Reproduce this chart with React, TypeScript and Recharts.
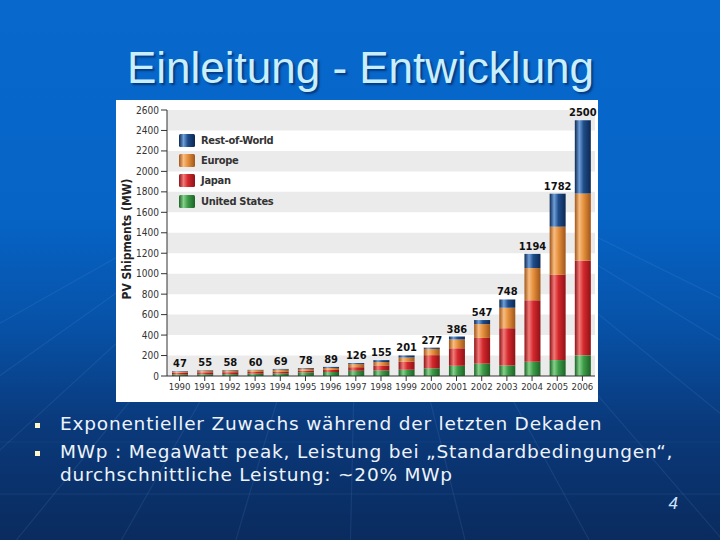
import React from 'react';
import { BarChart, Bar, XAxis, YAxis, ReferenceArea, Legend, LabelList } from 'recharts';

const years = ['1990', '1991', '1992', '1993', '1994', '1995', '1996', '1997', '1998', '1999', '2000', '2001', '2002', '2003', '2004', '2005', '2006'];
const unitedStates = [15, 17, 18, 23, 26, 35, 39, 51, 54, 61, 75, 100, 121, 103, 139, 156, 202];
const japan = [17, 19, 19, 17, 16, 16, 21, 35, 49, 80, 129, 171, 251, 364, 602, 833, 926];
const europe = [10, 14, 16, 17, 21, 20, 19, 30, 34, 40, 61, 86, 135, 200, 314, 470, 657];
const restOfWorld = [5, 5, 5, 3, 6, 7, 10, 10, 18, 20, 12, 29, 40, 81, 139, 323, 715];
const totals = [47, 55, 58, 60, 69, 78, 89, 126, 155, 201, 277, 386, 547, 748, 1194, 1782, 2500];
const yTicks = [0, 200, 400, 600, 800, 1000, 1200, 1400, 1600, 1800, 2000, 2200, 2400, 2600];

const series = [
  { key: 'us', name: 'United States', id: 'gUS', dark: '#1c6326', light: '#86d08a', base: '#3d9c48' },
  { key: 'jp', name: 'Japan', id: 'gJP', dark: '#8e1216', light: '#f07a78', base: '#d5282d' },
  { key: 'eu', name: 'Europe', id: 'gEU', dark: '#a0561a', light: '#f8bc80', base: '#e5903c' },
  { key: 'row', name: 'Rest-of-World', id: 'gROW', dark: '#0c2852', light: '#6f9fd8', base: '#1f4d8a' },
];

const data = years.map((y, i) => ({
  year: y,
  us: unitedStates[i],
  jp: japan[i],
  eu: europe[i],
  row: restOfWorld[i],
  total: totals[i],
}));

const bands: [number, number][] = [];
for (let i = 0; i + 1 < yTicks.length; i += 2) bands.push([yTicks[i], yTicks[i + 1]]);

const narrow = "'Liberation Sans Narrow', 'DejaVu Sans Condensed', 'Arial Narrow', sans-serif";

const renderLegend = (props: any) => {
  const payload = props.payload || [];
  const ordered = series
    .slice()
    .reverse()
    .map((s) => ({ s, p: payload.find((p: any) => p.dataKey === s.key) }))
    .filter((x) => x.p);
  return (
    <div style={{ display: 'flex', flexDirection: 'column' }}>
      {ordered.map(({ s, p }: any) => (
        <div key={s.key} style={{ display: 'flex', alignItems: 'center', height: 20.3 }}>
          <svg width={16} height={13} style={{ display: 'block' }}>
            <rect x={0} y={0} width={16} height={13} rx={1.5} fill={`url(#${s.id})`} />
          </svg>
          <span style={{ marginLeft: 6, fontFamily: narrow, fontWeight: 700, fontSize: 11, color: '#333', letterSpacing: -0.3 }}>
            {p.value}
          </span>
        </div>
      ))}
    </div>
  );
};

const yLabel = (props: any) => {
  const vb = props.viewBox || { x: 0, y: 0, width: 0, height: 0 };
  const cx = vb.x + 11;
  const cy = vb.y + vb.height / 2 - 4;
  return (
    <text
      x={cx}
      y={cy}
      transform={`rotate(-90 ${cx} ${cy})`}
      textAnchor="middle"
      dominantBaseline="central"
      fontFamily={narrow}
      fontWeight={700}
      fontSize={12}
      fill="#222"
    >
      PV Shipments (MW)
    </text>
  );
};

const rays = [-420, -260, -120, 0, 110, 230, 350, 470, 600, 740, 900, 1080, 1250];

export default function App() {
  return (
    <div
      style={{
        position: 'absolute',
        left: 0,
        top: 0,
        width: 720,
        height: 540,
        overflow: 'hidden',
        background: 'linear-gradient(180deg, #0868cc 0%, #0664c6 40%, #0752a8 60%, #0a3a7c 78%, #0a2b5e 100%)',
      }}
    >
      <svg width={720} height={540} style={{ position: 'absolute', left: 0, top: 0 }}>
        {rays.map((bx, i) => (
          <line key={i} x1={360} y1={120} x2={bx} y2={560} stroke="#7fb0f0" strokeOpacity={0.12} strokeWidth={1.2} />
        ))}
        <line x1={0} y1={494} x2={720} y2={494} stroke="#7fb0f0" strokeOpacity={0.1} />
        <line x1={0} y1={442} x2={720} y2={442} stroke="#7fb0f0" strokeOpacity={0.07} />
      </svg>

      <div
        style={{
          position: 'absolute',
          left: 0,
          width: 721,
          top: 46,
          textAlign: 'center',
          fontFamily: "'Liberation Sans', Arial, sans-serif",
          fontSize: 44,
          lineHeight: '44px',
          color: '#c9efff',
          textShadow: '2px 2px 2px #053a80',
          whiteSpace: 'nowrap',
        }}
      >
        Einleitung - Entwicklung
      </div>

      <div style={{ position: 'absolute', left: 116, top: 100, width: 482, height: 302, background: '#ffffff' }}>
        <BarChart
          width={482}
          height={302}
          data={data}
          margin={{ top: 10, right: 3, left: 0, bottom: 0 }}
          barSize={16}
        >
          <defs>
            {series.map((s) => (
              <linearGradient key={s.id} id={s.id} x1="0" y1="0" x2="1" y2="0">
                <stop offset="0%" stopColor={s.dark} />
                <stop offset="28%" stopColor={s.light} />
                <stop offset="55%" stopColor={s.base} />
                <stop offset="100%" stopColor={s.dark} />
              </linearGradient>
            ))}
          </defs>
          {bands.map(([a, b]) => (
            <ReferenceArea key={a} y1={a} y2={b} fill="#ebebeb" fillOpacity={1} stroke="none" ifOverflow="visible" />
          ))}
          <XAxis
            dataKey="year"
            height={26}
            interval={0}
            tickSize={5}
            axisLine={{ stroke: '#333' }}
            tickLine={{ stroke: '#333' }}
            tick={{ fill: '#333', fontSize: 9.5, fontFamily: narrow }}
          />
          <YAxis
            width={51}
            domain={[0, 2600]}
            ticks={yTicks}
            interval={0}
            tickSize={6}
            axisLine={{ stroke: '#333' }}
            tickLine={{ stroke: '#333' }}
            tick={{ fill: '#333', fontSize: 10, fontFamily: narrow }}
            label={{ content: yLabel }}
          />
          <Legend
            layout="vertical"
            align="center"
            verticalAlign="middle"
            content={renderLegend}
            wrapperStyle={{ left: 63, top: 30, width: 140, height: 84 }}
          />
          {series.map((s) => (
            <Bar key={s.key} dataKey={s.key} name={s.name} stackId="a" fill={`url(#${s.id})`} isAnimationActive={false}>
              {s.key === 'row' ? (
                <LabelList
                  dataKey="total"
                  position="top"
                  offset={4}
                  style={{ fill: '#111', fontSize: 11, fontWeight: 700, fontFamily: narrow }}
                />
              ) : null}
            </Bar>
          ))}
        </BarChart>
      </div>

      <div
        style={{
          position: 'absolute',
          left: 0,
          top: 0,
          fontFamily: "'DejaVu Sans', Verdana, sans-serif",
          fontSize: 18.5,
          lineHeight: '23px',
          letterSpacing: 0.8,
          color: '#eef3fb',
          whiteSpace: 'nowrap',
        }}
      >
        <div style={{ position: 'absolute', left: 35, top: 423, width: 5, height: 5, background: '#fff6cc' }} />
        <div style={{ position: 'absolute', left: 60, top: 412 }}>Exponentieller Zuwachs während der letzten Dekaden</div>
        <div style={{ position: 'absolute', left: 35, top: 451, width: 5, height: 5, background: '#fff6cc' }} />
        <div style={{ position: 'absolute', left: 60, top: 440 }}>
          MWp : MegaWatt peak, Leistung bei „Standardbedingungen“,
          <br />
          durchschnittliche Leistung: ~20% MWp
        </div>
      </div>

      <div
        style={{
          position: 'absolute',
          left: 640,
          width: 38,
          top: 494,
          textAlign: 'right',
          fontFamily: "'Liberation Sans', Arial, sans-serif",
          fontStyle: 'italic',
          fontSize: 17,
          color: '#cfe2ff',
        }}
      >
        4
      </div>
    </div>
  );
}
